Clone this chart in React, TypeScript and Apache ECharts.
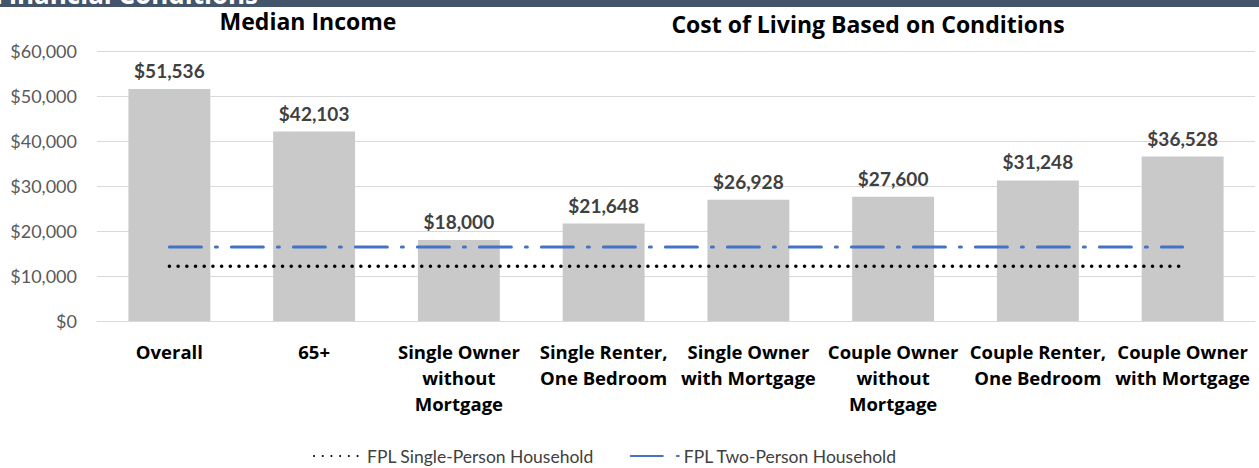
import React, { useEffect, useRef } from "react";
import * as echarts from "echarts";

const categories = [
  "Overall",
  "65+",
  "Single Owner\nwithout\nMortgage",
  "Single Renter,\nOne Bedroom",
  "Single Owner\nwith Mortgage",
  "Couple Owner\nwithout\nMortgage",
  "Couple Renter,\nOne Bedroom",
  "Couple Owner\nwith Mortgage",
];
const incomeValues = [51536, 42103, 18000, 21648, 26928, 27600, 31248, 36528];
const fplSingle = [12140, 12140, 12140, 12140, 12140, 12140, 12140, 12140];
const fplTwo = [16460, 16460, 16460, 16460, 16460, 16460, 16460, 16460];
const yTicks = { min: 0, max: 60000, interval: 10000 };
const headerText = "Financial Conditions";
const titleLeft = "Median Income";
const titleRight = "Cost of Living Based on Conditions";
const seriesNames = ["Median Income", "FPL Single-Person Household", "FPL Two-Person Household"];

const FONT = "Lato, 'Open Sans', sans-serif";
const BOLD_FONT = "'Open Sans', Lato, sans-serif";

export default function App() {
  const ref = useRef<HTMLDivElement>(null);
  useEffect(() => {
    if (!ref.current) return;
    const chart = echarts.init(ref.current, undefined, { renderer: "svg" });
    chart.setOption({
      animation: false,
      backgroundColor: "#ffffff",
      textStyle: { fontFamily: FONT },
      graphic: [
        { type: "rect", left: 0, top: 0, shape: { width: 1259, height: 7 }, style: { fill: "#44546A" } },
        {
          type: "text",
          x: 258,
          y: 7,
          style: {
            text: headerText,
            fill: "#ffffff",
            font: `bold 26px ${BOLD_FONT}`,
            textAlign: "right",
            textVerticalAlign: "bottom",
          },
        },
        {
          type: "text",
          x: 308,
          y: 21,
          style: { text: titleLeft, fill: "#000000", font: `bold 23px ${BOLD_FONT}`, textAlign: "center", textVerticalAlign: "middle" },
        },
        {
          type: "text",
          x: 868,
          y: 24,
          style: { text: titleRight, fill: "#000000", font: `bold 23px ${BOLD_FONT}`, textAlign: "center", textVerticalAlign: "middle" },
        },
      ],
      legend: {
        data: [seriesNames[1], seriesNames[2]],
        top: 447,
        left: 313,
        padding: 0,
        itemWidth: 48,
        itemHeight: 10,
        itemGap: 36,
        itemStyle: { opacity: 0 },
        textStyle: { fontSize: 17.5, color: "#404040", fontFamily: FONT },
      },
      grid: { left: 97, right: 4, top: 51, bottom: 147, containLabel: false },
      xAxis: {
        type: "category",
        data: categories,
        axisLine: { lineStyle: { color: "#D9D9D9", width: 1 } },
        axisTick: { show: false },
        axisLabel: {
          interval: 0,
          color: "#000000",
          fontWeight: "bold",
          fontSize: 18.5,
          lineHeight: 26,
          margin: 17,
          fontFamily: BOLD_FONT,
        },
      },
      yAxis: {
        type: "value",
        min: yTicks.min,
        max: yTicks.max,
        interval: yTicks.interval,
        axisLine: { show: false },
        axisTick: { show: false },
        splitLine: { lineStyle: { color: "#D9D9D9", width: 1 } },
        axisLabel: {
          color: "#595959",
          fontSize: 18,
          margin: 20,
          fontFamily: FONT,
          formatter: (v: number) => "$" + v.toLocaleString("en-US"),
        },
      },
      series: [
        {
          name: seriesNames[0],
          type: "bar",
          data: incomeValues,
          barCategoryGap: "43.4%",
          itemStyle: { color: "#C9C9C9" },
          label: {
            show: true,
            position: "top",
            distance: 9,
            color: "#404040",
            fontWeight: "bold",
            fontSize: 19,
            fontFamily: FONT,
            formatter: (p: any) => "$" + Number(p.value).toLocaleString("en-US"),
          },
          z: 1,
        },
        {
          name: seriesNames[1],
          type: "line",
          data: fplSingle,
          symbol: "none",
          itemStyle: { color: "#000000" },
          lineStyle: { color: "#000000", width: 3.5, type: [0.1, 8.6], cap: "round" },
          z: 3,
        },
        {
          name: seriesNames[2],
          type: "line",
          data: fplTwo,
          symbol: "none",
          itemStyle: { color: "#4472C4" },
          lineStyle: { color: "#4472C4", width: 3, type: [32, 14, 2, 14], cap: "round" },
          z: 3,
        },
      ],
    });
    return () => chart.dispose();
  }, []);
  return (
    <div
      ref={ref}
      style={{ position: "fixed", left: 0, top: 0, width: 1259, height: 468 }}
    />
  );
}
